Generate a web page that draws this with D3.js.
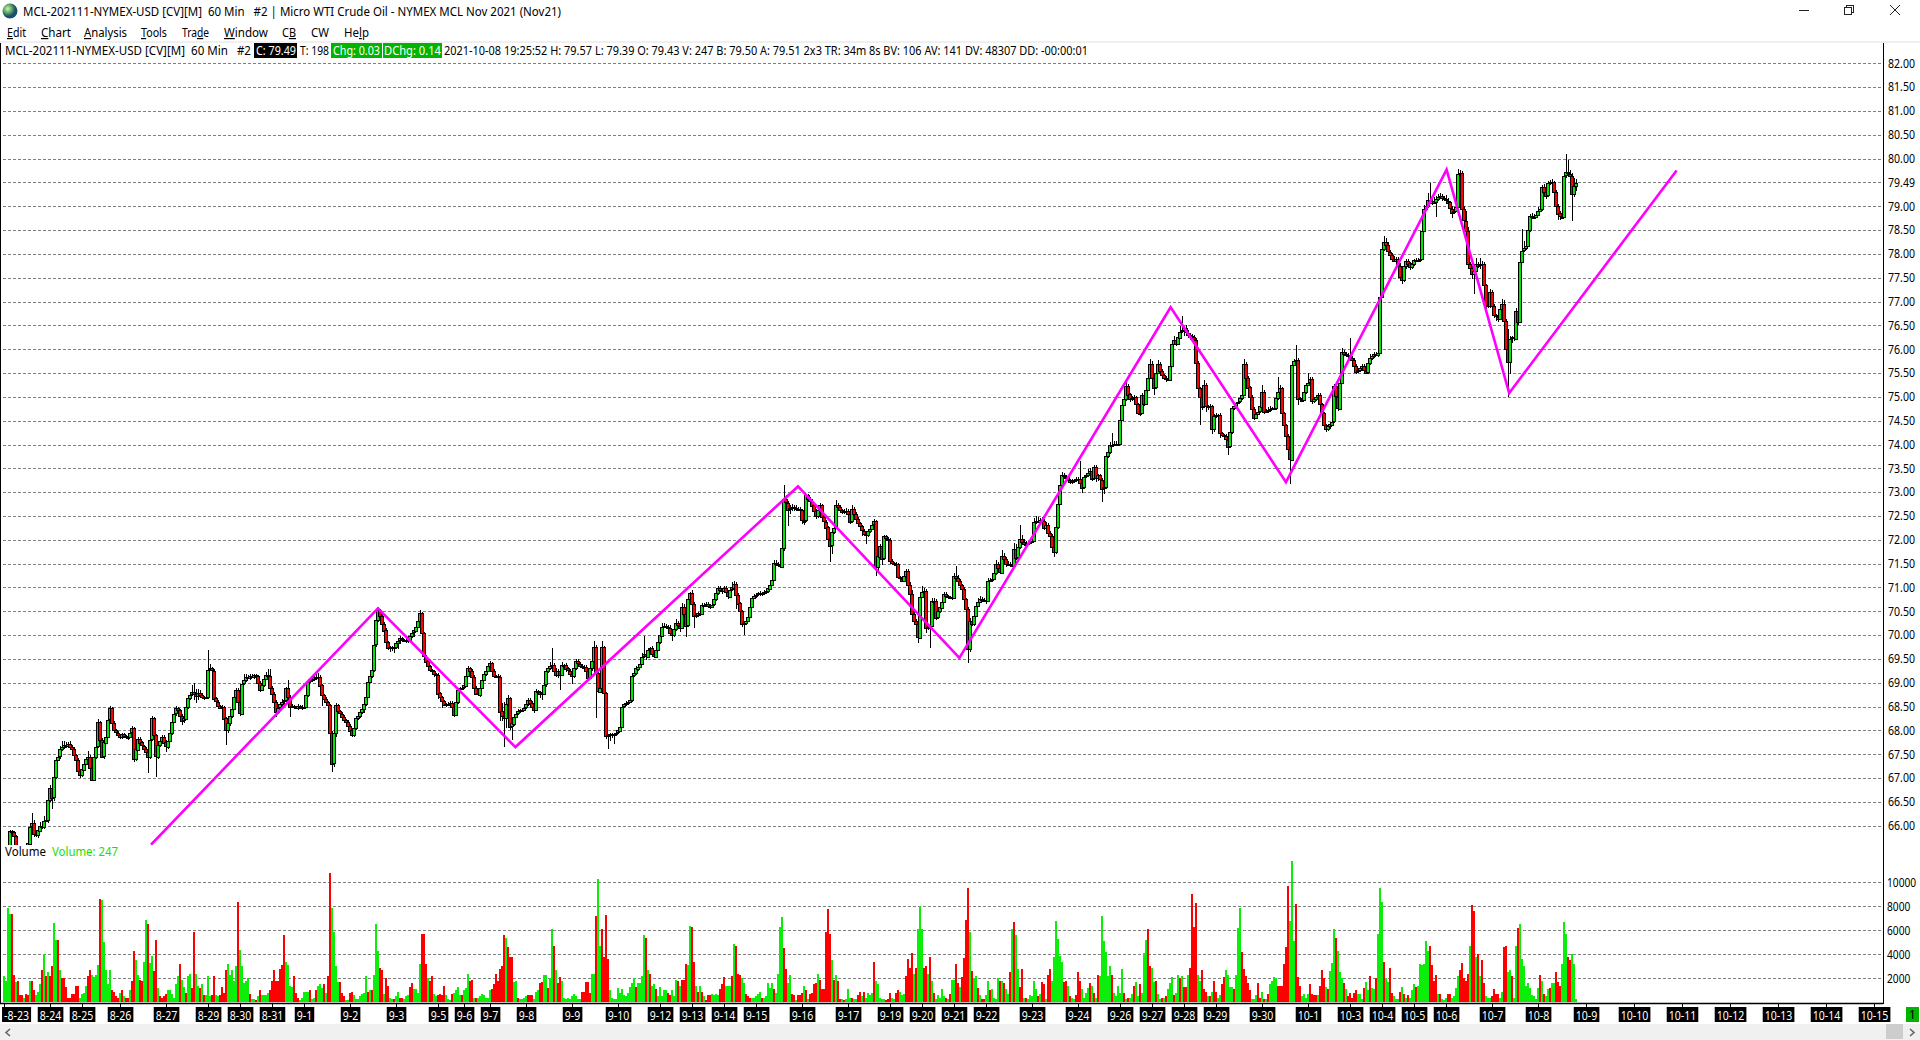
<!DOCTYPE html>
<html>
<head>
<meta charset="utf-8">
<title>MCL-202111-NYMEX-USD</title>
<script src="https://cdn.jsdelivr.net/npm/d3@7"></script>
<style>
  html, body { margin: 0; padding: 0; background: #fff; overflow: hidden; }
  text { font-family: "Noto Sans", sans-serif; font-size: 12px; fill: #000; }
</style>
</head>
<body>
<div id="chart"></div>
<script>
//***************************** Data ***********************************

// closes in cents, one line = 20 hourly bars. A bar opens on the previous close.
var firstOpen = 6530;
var closes = [
6520,6515,6510,6588,6586,6578,6530,6520,6510,6505,6512,6550,6563,6598,6605,6582,6580,6590,6600,6598,
6610,6612,6654,6680,6660,6703,6738,6745,6760,6765,6770,6768,6772,6765,6760,6748,6738,6715,6706,6718,
6730,6740,6745,6722,6696,6745,6766,6817,6780,6745,6775,6787,6822,6846,6815,6800,6795,6790,6786,6792,
6788,6785,6787,6795,6804,6738,6760,6783,6775,6768,6762,6755,6745,6780,6825,6790,6745,6770,6778,6787,
6775,6766,6778,6795,6818,6835,6846,6842,6830,6820,6825,6850,6868,6875,6880,6876,6872,6878,6874,6870,
6868,6870,6927,6930,6925,6867,6860,6852,6848,6850,6825,6800,6815,6830,6845,6870,6885,6860,6836,6898,
6905,6912,6910,6915,6912,6916,6914,6900,6885,6895,6908,6916,6915,6890,6877,6860,6840,6848,6855,6860,
6863,6888,6870,6850,6852,6850,6848,6852,6850,6848,6850,6875,6902,6905,6908,6912,6910,6913,6895,6874,
6866,6860,6853,6795,6730,6794,6853,6840,6835,6829,6822,6818,6810,6800,6790,6805,6825,6830,6838,6845,
6856,6870,6902,6915,6927,6980,7031,7052,7040,7024,7010,6985,6972,6975,6972,6975,6983,6988,6993,6990,
6990,6987,6990,6998,7005,7010,7018,7030,7046,7004,6955,6945,6935,6926,6924,6918,6917,6878,6870,6862,
6854,6855,6856,6858,6850,6833,6860,6885,6888,6890,6895,6915,6931,6925,6913,6890,6878,6875,6890,6906,
6918,6925,6935,6941,6925,6915,6915,6913,6840,6830,6826,6855,6868,6808,6815,6829,6835,6840,6842,6843,
6848,6855,6864,6858,6850,6843,6882,6880,6875,6878,6896,6924,6930,6935,6938,6925,6917,6925,6917,6938,
6938,6930,6925,6918,6913,6930,6945,6940,6936,6934,6934,6925,6910,6930,6945,6975,6920,6882,6890,6975,
6878,6787,6790,6792,6791,6793,6795,6800,6808,6850,6855,6858,6860,6864,6915,6920,6930,6934,6940,6955,
6960,6955,6969,6972,6960,6955,6969,6985,7000,7018,7020,7018,7015,7005,7000,7012,7025,7020,7015,7060,
7045,7020,7075,7088,7065,7039,7042,7046,7046,7064,7064,7066,7062,7060,7064,7075,7088,7099,7095,7092,
7099,7090,7081,7095,7100,7108,7085,7067,7050,7022,7025,7030,7039,7060,7078,7082,7085,7088,7086,7088,
7090,7092,7098,7106,7116,7151,7149,7147,7144,7183,7285,7278,7263,7266,7268,7266,7265,7265,7262,7240,
7240,7293,7285,7280,7272,7260,7250,7262,7272,7247,7238,7226,7200,7188,7216,7225,7272,7268,7262,7258,
7260,7261,7255,7239,7265,7254,7244,7235,7228,7219,7212,7209,7218,7223,7232,7239,7142,7165,7188,7160,
7207,7202,7200,7156,7152,7150,7149,7121,7118,7114,7125,7135,7105,7086,7044,7030,7023,6995,7080,7090,
7093,7016,7018,7020,7072,7072,7037,7050,7058,7070,7086,7082,7080,7079,7078,7125,7120,7114,7105,7097,
7075,7055,6971,7030,7023,7040,7062,7070,7076,7074,7073,7072,7114,7115,7118,7130,7149,7140,7132,7167,
7160,7149,7150,7148,7146,7181,7163,7185,7202,7195,7191,7192,7194,7196,7198,7237,7240,7238,7242,7240,
7226,7232,7215,7209,7185,7174,7226,7275,7314,7335,7332,7331,7325,7321,7323,7325,7328,7328,7320,7310,
7332,7335,7340,7345,7329,7352,7328,7335,7326,7307,7310,7375,7384,7399,7400,7402,7400,7401,7452,7483,
7495,7523,7505,7494,7497,7499,7485,7467,7467,7504,7485,7515,7540,7569,7540,7520,7550,7569,7555,7546,
7540,7537,7536,7565,7611,7620,7611,7625,7637,7640,7644,7635,7630,7628,7625,7620,7571,7518,7500,7480,
7525,7480,7478,7480,7431,7459,7462,7462,7424,7420,7417,7410,7396,7426,7476,7480,7487,7490,7497,7504,
7569,7540,7520,7500,7475,7457,7465,7469,7480,7511,7469,7470,7472,7475,7476,7476,7497,7510,7518,7466,
7440,7417,7390,7368,7567,7575,7578,7497,7494,7494,7510,7525,7530,7537,7490,7495,7500,7504,7485,7466,
7440,7431,7438,7442,7448,7522,7500,7476,7530,7595,7590,7587,7585,7582,7578,7565,7553,7556,7560,7564,
7555,7551,7570,7581,7586,7590,7588,7593,7710,7810,7825,7818,7805,7798,7790,7785,7790,7775,7751,7745,
7775,7786,7780,7772,7778,7787,7786,7788,7790,7849,7895,7901,7913,7908,7912,7908,7915,7920,7922,7918,
7915,7912,7908,7895,7887,7890,7899,7968,7969,7894,7870,7849,7779,7770,7758,7765,7779,7775,7778,7779,
7734,7692,7690,7720,7690,7671,7668,7664,7685,7695,7660,7601,7573,7622,7625,7622,7681,7657,7783,7807,
7812,7817,7850,7880,7878,7878,7882,7890,7894,7940,7930,7922,7948,7950,7950,7930,7901,7885,7878,7878,
7964,7971,7968,7964,7926,7943,7949];

// upper wick above the body, cents
var wickUp = [
8,12,6,4,3,3,3,4,2,3,5,4,6,8,22,8,6,5,8,6,
10,40,6,6,8,5,6,8,8,12,8,6,3,5,4,6,3,5,2,4,
8,5,12,4,2,4,8,6,3,4,3,5,4,6,3,5,2,3,2,3,
2,3,2,4,6,3,5,4,3,2,2,4,15,4,6,3,3,5,4,3,
3,4,5,4,3,6,5,4,3,4,15,8,6,6,15,20,10,8,6,4,
3,2,42,10,4,3,3,4,2,3,2,4,3,5,6,5,4,3,5,6,
14,6,5,3,4,3,3,2,4,3,4,6,12,14,4,3,3,5,4,5,
8,4,18,4,3,2,2,3,2,3,4,5,6,5,4,3,6,8,4,3,
3,4,2,3,3,4,4,3,3,4,3,2,3,3,3,5,6,4,5,4,
4,4,3,4,3,4,3,6,3,4,3,4,3,3,2,3,5,4,6,3,
2,4,3,4,5,4,4,4,6,3,3,3,3,2,3,3,2,3,2,3,
2,3,3,4,3,3,4,3,4,3,4,14,4,3,3,3,3,3,4,3,
3,3,3,4,3,3,2,3,3,18,30,8,6,3,4,3,4,4,3,3,
3,4,5,3,3,3,4,3,3,4,3,5,4,8,35,4,5,4,3,6,
2,3,3,4,4,6,4,4,3,4,3,3,4,5,6,12,4,3,3,12,
3,3,3,3,3,2,3,4,6,4,3,3,4,6,6,4,6,4,6,8,
38,8,4,3,6,5,6,8,6,8,6,4,4,6,5,4,8,4,3,8,
6,5,6,3,6,4,4,3,6,4,3,3,3,4,4,5,6,4,5,4,
4,3,4,6,12,6,4,3,3,3,4,4,3,4,3,4,4,3,4,3,
4,3,4,5,8,6,6,4,4,4,30,8,4,6,8,5,6,4,4,3,
3,4,3,5,5,4,4,6,5,4,3,4,3,5,3,6,12,6,4,3,
4,6,4,3,8,3,4,4,3,3,3,3,4,6,5,4,3,3,4,4,
4,3,3,3,3,2,4,3,3,6,6,4,3,6,8,6,3,3,8,14,
6,4,3,3,6,5,4,4,3,5,5,4,3,3,4,6,21,6,4,3,
4,3,3,5,3,4,6,8,6,4,3,3,6,4,5,6,8,4,5,12,
6,4,5,3,4,12,10,14,29,8,6,5,4,5,4,8,10,8,4,5,
4,5,3,4,3,2,4,5,6,8,6,5,4,3,4,3,3,4,38,3,
5,6,8,5,4,6,4,4,3,3,4,6,8,7,25,6,5,4,6,8,
5,8,4,3,4,5,3,3,4,4,5,4,8,10,6,4,6,8,4,3,
3,3,4,4,6,8,5,6,12,29,5,6,6,5,4,4,3,4,3,5,
10,4,3,5,3,5,4,3,4,3,3,4,3,5,3,3,3,3,4,3,
10,4,3,3,3,4,3,4,6,14,4,4,6,5,3,3,8,31,6,3,
3,3,4,3,6,5,30,4,3,5,4,5,21,4,4,3,4,5,4,3,
3,4,3,3,4,6,4,3,10,8,4,5,6,38,4,3,3,4,5,4,
4,3,6,8,4,4,5,6,6,6,12,8,6,4,4,6,4,4,5,3,
6,3,4,4,3,3,4,3,4,6,8,6,15,35,6,8,6,6,5,4,
3,8,6,4,5,3,4,10,8,5,6,20,8,4,4,4,12,4,14,6,
4,3,4,6,4,4,3,4,6,10,8,4,42,6,3,4,6,30,10,45,
15,20,8,4,5,6,8,8,6,4,6,4,4,6,8,4,4,3,4,3,
5,39,26,8,6,16,8];

// lower wick below the body, cents
var wickDown = [
3,4,2,5,3,4,3,5,3,4,2,3,5,4,12,6,4,5,3,4,
5,3,6,5,25,8,4,3,6,4,3,4,5,6,4,3,5,4,5,3,
4,3,6,4,3,3,5,3,22,3,6,4,3,5,4,3,5,3,4,5,
3,4,6,3,5,4,3,4,5,4,6,8,35,4,3,6,42,4,5,3,
4,12,4,3,4,3,4,3,6,8,4,3,5,4,3,12,14,8,6,5,
4,3,4,3,10,5,5,6,4,5,4,30,6,5,4,3,4,8,6,3,
3,4,3,4,3,4,3,5,4,3,4,3,5,8,4,6,12,5,3,10,
6,4,5,22,4,4,4,5,3,5,4,3,4,3,3,4,5,4,12,22,
4,5,6,4,17,6,8,5,4,4,5,4,6,8,4,3,4,3,4,3,
8,4,3,3,4,5,4,3,5,6,4,4,3,8,5,10,4,12,6,4,
5,3,4,3,4,10,4,3,3,5,6,6,5,3,4,5,3,12,8,14,
3,4,4,8,3,5,3,4,3,4,3,3,3,4,4,5,4,3,4,3,
3,3,3,3,8,6,5,12,20,10,60,20,6,8,28,6,4,3,3,4,
3,3,3,6,8,6,3,3,8,12,3,4,3,3,3,4,4,8,33,3,
3,8,5,6,15,3,4,3,5,6,3,12,4,3,6,5,95,3,4,4,
6,5,27,12,6,20,4,3,3,4,3,3,4,3,4,3,3,5,4,3,
3,8,3,3,6,4,3,3,3,3,4,4,5,4,12,3,3,5,8,3,
8,23,3,4,5,24,4,3,6,3,5,3,4,6,3,3,4,3,4,5,
3,4,6,3,3,12,30,4,3,5,22,4,3,3,3,3,4,3,4,3,
3,3,3,3,3,3,3,3,3,3,6,12,33,8,6,6,4,3,5,6,
8,3,4,3,5,6,6,4,5,4,5,6,8,34,18,3,3,3,4,3,
3,3,3,5,4,3,4,6,5,12,4,18,3,3,3,3,19,8,6,12,
3,5,4,6,3,4,3,4,5,3,3,8,6,3,6,4,6,12,3,3,
3,12,6,46,3,4,6,3,3,3,3,3,4,4,5,3,3,4,4,5,
3,6,29,6,4,3,3,3,3,4,3,6,3,3,4,3,3,5,4,3,
5,6,3,4,4,3,6,3,4,5,3,3,3,3,3,3,3,3,3,3,
6,3,5,3,8,11,3,3,3,3,3,4,5,3,3,3,3,6,5,12,
3,3,3,3,6,3,6,4,5,27,10,3,3,3,3,3,3,4,3,3,
3,3,3,5,3,3,6,5,8,3,5,3,3,3,6,17,3,3,4,4,
5,6,3,3,3,3,4,3,3,3,12,5,6,8,4,5,6,5,60,8,
3,12,5,3,8,4,3,3,10,4,6,5,18,3,3,3,3,3,3,3,
3,3,5,6,5,6,3,3,3,3,6,3,3,3,3,3,3,3,3,8,
6,5,4,51,3,3,3,14,3,4,3,3,3,3,5,3,3,3,6,6,
5,4,3,6,4,3,4,5,3,3,3,4,5,3,3,4,5,3,3,4,
3,4,3,3,3,4,3,4,3,3,3,3,6,5,4,3,4,6,5,8,
3,6,4,5,3,3,4,3,4,3,3,3,4,4,6,4,31,4,5,6,
4,3,4,8,12,3,3,3,3,4,6,12,8,6,10,42,3,5,6,8,
12,20,3,3,6,5,8,6,3,4,3,10,73,25,8,5,3,6,3,3,
3,3,3,3,3,3,3,3,3,3,4,6,3,3,3,5,8,14,6,4,
3,4,3,5,56,6,10];

// volume in hundreds of lots, negative = red bar
var volumes = [
22,18,79,74,-74,-23,17,-18,-6,-6,4,-7,-6,18,-18,-10,6,9,15,-27,
40,-22,25,-22,-30,66,52,-52,27,-20,-20,-13,-4,-4,-7,-7,-14,-14,4,7,
8,14,-22,-27,23,21,23,31,-86,85,50,27,15,27,-10,-9,-5,-4,8,-10,
5,-4,-4,10,-18,-43,35,23,-19,-18,34,69,-65,33,39,-26,-52,12,-5,-4,
-5,-7,10,10,7,4,15,22,-32,19,13,-8,22,24,-12,-59,24,14,-12,15,
-6,6,22,5,-6,-22,6,5,-6,-13,-8,-27,32,23,27,18,30,-84,44,30,
16,18,20,-7,3,3,-2,5,-10,6,6,6,8,-10,-18,-27,-18,-18,-28,-31,
-56,34,31,14,13,-22,-8,-4,2,4,9,9,9,-10,3,4,-10,14,15,12,
-15,8,-22,-108,79,59,30,17,-17,-8,-5,2,2,-8,-9,6,3,3,5,7,
8,22,-9,10,-10,23,65,43,-29,-27,7,-20,-14,4,3,-3,5,9,-4,-4,
3,5,6,-13,-16,11,11,8,32,-57,-57,-32,20,-18,-22,7,5,-6,-7,-6,
-14,6,3,2,-7,8,10,13,6,-6,10,12,24,-18,-19,4,-4,4,5,7,
6,4,4,10,-11,-15,-24,-18,-28,-30,-56,54,-46,-38,-38,17,18,-4,3,3,
4,5,-6,-6,-6,3,9,10,-16,-17,23,23,-12,20,61,-47,27,-16,-21,18,
4,3,4,3,5,7,5,3,3,-9,-9,-17,-17,-8,24,24,-72,103,47,-61,
-38,-73,-36,10,4,3,3,12,8,11,6,5,8,13,16,20,-13,16,16,22,
56,-54,27,-24,14,15,-11,5,13,5,10,10,-8,-6,10,5,19,-18,14,-19,
-19,-32,31,64,-63,-34,14,-9,14,-9,5,-2,-6,-6,7,6,7,6,-11,-15,
-21,14,14,14,-22,49,-47,-24,-23,20,16,-7,-5,-4,4,4,5,7,9,-4,
4,5,16,12,16,-11,8,24,63,71,-45,-28,16,23,-7,-6,2,-6,-6,-8,
14,-10,3,-7,-8,-15,-16,24,-19,-11,-11,-59,-78,-57,35,-19,23,-18,-3,3,
-2,3,11,4,-4,3,3,-6,-9,5,-9,4,8,6,8,-34,18,15,4,3,
3,-2,-3,-8,4,3,-8,-10,9,6,7,-22,-36,-29,-41,24,-29,61,80,61,
-29,-30,24,-38,18,-8,3,6,4,11,5,-4,3,-7,19,19,-32,-16,13,-21,
-37,-69,-95,59,-26,20,22,-12,6,-3,-3,6,18,-10,11,4,3,20,-18,18,
-16,11,7,-25,61,-67,56,28,-13,-28,4,-4,3,6,5,18,11,-5,7,-17,
-15,3,-23,-28,18,38,68,53,39,34,-17,-18,14,-5,4,3,-6,-25,-18,11,
4,8,12,-16,14,-8,4,-23,22,72,51,42,22,30,-23,8,5,14,8,28,
-8,3,-4,4,7,-14,17,5,-15,8,41,52,-61,-30,29,17,-18,7,3,-4,
4,-5,11,16,21,-6,8,23,-20,22,-13,-13,23,-29,-90,-63,-83,23,18,-27,
-11,-9,5,-5,9,-18,-9,4,6,-15,-21,27,23,13,13,-11,23,62,79,-42,
-28,-22,-16,-10,3,3,6,-16,-4,9,-3,3,-7,15,18,21,20,-14,-14,-14,
-32,-46,-97,68,118,51,-82,-21,-14,5,7,4,7,-15,-7,-6,-6,6,-14,-27,
-20,13,-11,26,33,61,-54,43,25,20,-16,11,-5,-8,-4,-8,-10,7,7,3,
-12,17,10,-22,12,11,-20,57,95,84,-34,20,17,-29,-8,5,3,3,-9,13,
-7,4,-6,4,10,15,-13,14,32,31,32,51,43,-47,-31,-18,-23,7,-7,3,
2,4,-7,-7,4,5,12,22,-27,-33,-20,-18,-24,47,-81,-76,38,-40,22,-35,
-16,5,4,4,-5,-11,-7,-7,4,9,-46,-47,25,27,-22,4,47,-62,65,36,
30,14,16,12,6,5,3,12,-23,18,-7,5,11,-12,16,16,-25,-17,-14,32,
67,57,-38,-35,40,32,2.47];

// the magenta zig-zag drawn on the chart: bar number and price
var zigBars = [73.5, 187, 255.7, 397, 477.7, 583.3, 641, 721.3, 752.6, 836.3];
var zigPrices = [65.6, 70.56, 67.65, 73.12, 69.52, 76.88, 73.21, 79.77, 75.08, 79.75];

var priceTicks = [66,66.5,67,67.5,68,68.5,69,69.5,70,70.5,71,71.5,72,72.5,73,73.5,74,74.5,75,75.5,76,76.5,77,77.5,78,78.5,79,79.5,80,80.5,81,81.5,82];
var volumeTicks = [2000, 4000, 6000, 8000, 10000];

var dateLabels = ['-8-23','8-24','8-25','8-26','8-27','8-29','8-30','8-31','9-1','9-2','9-3','9-5','9-6','9-7','9-8','9-9','9-10','9-12','9-13','9-14','9-15','9-16','9-17','9-19','9-20','9-21','9-22','9-23','9-24','9-26','9-27','9-28','9-29','9-30','10-1','10-3','10-4','10-5','10-6','10-7','10-8','10-9','10-10','10-11','10-12','10-13','10-14','10-15'];
var dateBars = [0,23,39,58,81,102,118,134,150,173,196,217,230,243,261,284,307,328,344,360,376,399,422,443,459,475,491,514,537,558,574,590,606,629,652,673,689,705,721,744,767,791,815,839,863,887,911,935];

var menuItems = ['Edit','Chart','Analysis','Tools','Trade','Window','CB','CW','Help'];
var menuKeys = [0, 0, 0, 0, 3, 0, 1, -1, 2];
var menuLeft = [7, 41, 84, 141, 182, 224, 282, 311, 344];
var menuWidth = [19, 30, 43, 26, 27, 44, 14, 18, 25];

var titleText = 'MCL-202111-NYMEX-USD [CV][M]  60 Min   #2 | Micro WTI Crude Oil - NYMEX MCL Nov 2021 (Nov21)';
var statusName = 'MCL-202111-NYMEX-USD [CV][M]  60 Min   #2';
var statusRest = '2021-10-08 19:25:52 H: 79.57 L: 79.39 O: 79.43 V: 247 B: 79.50 A: 79.51 2x3 TR: 34m 8s BV: 106 AV: 141 DV: 48307 DD: -00:00:01';

//***************************** Layout ***********************************

var chart_width = 1920;
var chart_height = 1040;
var axis_x = 1883;
var panel_top = 43;
var price_bottom = 845;
var axis_y = 1003;

var svg = d3.select('#chart')
  .append('svg')
  .attr('width', chart_width)
  .attr('height', chart_height)
  .style('display', 'block');

// put a text exactly on a width, the installed fonts are wider than the original
function fit(sel, width) {
  return sel
    .attr('textLength', width)
    .attr('lengthAdjust', 'spacingAndGlyphs')
    .style('white-space', 'pre');
}

function squeeze(sel, factor) {
  sel.each(function() {
    d3.select(this)
      .attr('textLength', this.getComputedTextLength() * factor)
      .attr('lengthAdjust', 'spacingAndGlyphs');
  });
}

//***************************** Scales ***********************************

var x_scale = d3.scaleLinear()
  .domain([0, 935])
  .range([4, 1874]);

var y_scale = d3.scaleLinear()
  .domain([66, 82])
  .range([825.7, 63.3]);

var vol_scale = d3.scaleLinear()
  .domain([0, 10000])
  .range([1002.3, 882.3]);

//***************************** Window parts ***********************************

var globe = svg.append('defs')
  .append('radialGradient')
  .attr('id', 'globe')
  .attr('cx', '35%')
  .attr('cy', '35%');
globe.append('stop').attr('offset', '0%').attr('stop-color', '#cfeec0');
globe.append('stop').attr('offset', '55%').attr('stop-color', '#5fa860');
globe.append('stop').attr('offset', '100%').attr('stop-color', '#1c4f6e');

svg.append('circle')
  .attr('cx', 10)
  .attr('cy', 11)
  .attr('r', 7.5)
  .attr('fill', 'url(#globe)');

svg.append('text')
  .attr('x', 23)
  .attr('y', 16)
  .text(titleText)
  .call(fit, 538);

// minimise, restore, close
var win_lines = [[1799, 10.5, 1809, 10.5], [1890, 5, 1900, 15], [1900, 5, 1890, 15]];
svg.selectAll('.win')
  .data(win_lines)
  .enter()
  .append('line')
  .attr('class', 'win')
  .attr('x1', function(d) { return d[0]; })
  .attr('y1', function(d) { return d[1]; })
  .attr('x2', function(d) { return d[2]; })
  .attr('y2', function(d) { return d[3]; })
  .attr('stroke', '#222');
svg.append('rect').attr('x', 1846.5).attr('y', 5.5).attr('width', 7).attr('height', 7).attr('fill', 'none').attr('stroke', '#222');
svg.append('rect').attr('x', 1844.5).attr('y', 7.5).attr('width', 7).attr('height', 7).attr('fill', '#fff').attr('stroke', '#222');

// menu bar, the access key of each item is underlined
var menu = svg.selectAll('.menu')
  .data(menuItems)
  .enter()
  .append('text')
  .attr('class', 'menu')
  .attr('x', function(d, i) { return menuLeft[i]; })
  .attr('y', 37)
  .attr('textLength', function(d, i) { return menuWidth[i]; })
  .attr('lengthAdjust', 'spacingAndGlyphs');
menu.each(function(d, i) {
  var k = menuKeys[i];
  var t = d3.select(this);
  if (k < 0) {
    t.text(d);
    return;
  }
  t.append('tspan').text(d.slice(0, k));
  t.append('tspan').attr('text-decoration', 'underline').text(d.charAt(k));
  t.append('tspan').text(d.slice(k + 1));
});

svg.append('rect')
  .attr('x', 0)
  .attr('y', 41)
  .attr('width', chart_width)
  .attr('height', 2)
  .attr('fill', '#f0f0f0');

//***************************** Grid ***********************************

var grid = svg.append('g').attr('shape-rendering', 'crispEdges');

function gridLines(ticks, scale) {
  grid.selectAll(null)
    .data(ticks)
    .enter()
    .append('line')
    .attr('x1', 3)
    .attr('x2', axis_x)
    .attr('y1', function(d) { return Math.round(scale(d)) + 0.5; })
    .attr('y2', function(d) { return Math.round(scale(d)) + 0.5; })
    .attr('stroke', '#808080')
    .attr('stroke-dasharray', '3,2');
}
gridLines(priceTicks, y_scale);
gridLines(volumeTicks, vol_scale);

//***************************** Candles ***********************************

svg.append('clipPath')
  .attr('id', 'price-clip')
  .append('rect')
  .attr('x', 0)
  .attr('y', panel_top)
  .attr('width', axis_x)
  .attr('height', price_bottom - panel_top);

var bars = closes.map(function(c, i) {
  var o = i ? closes[i - 1] : firstOpen;
  return {
    i: i,
    open: o / 100,
    close: c / 100,
    high: (Math.max(o, c) + wickUp[i]) / 100,
    low: (Math.min(o, c) - wickDown[i]) / 100
  };
});

var candles = svg.append('g')
  .attr('clip-path', 'url(#price-clip)')
  .attr('shape-rendering', 'crispEdges');

var candle = candles.selectAll('g')
  .data(bars)
  .enter()
  .append('g');

candle.append('line')
  .attr('x1', function(d) { return x_scale(d.i) + 0.5; })
  .attr('x2', function(d) { return x_scale(d.i) + 0.5; })
  .attr('y1', function(d) { return y_scale(d.high); })
  .attr('y2', function(d) { return y_scale(d.low); })
  .attr('stroke', '#000');

candle.append('rect')
  .attr('x', function(d) { return x_scale(d.i) - 1.5; })
  .attr('width', 3)
  .attr('y', function(d) { return Math.round(y_scale(Math.max(d.open, d.close))) + 0.5; })
  .attr('height', function(d) {
    return Math.max(1, Math.round(Math.abs(y_scale(d.open) - y_scale(d.close))));
  })
  .attr('fill', function(d) { return d.close >= d.open ? '#00e600' : '#ff0000'; })
  .attr('stroke', '#000');

// zig-zag
var zig_line = d3.line()
  .x(function(d, i) { return x_scale(d); })
  .y(function(d, i) { return y_scale(zigPrices[i]); });

svg.append('path')
  .attr('clip-path', 'url(#price-clip)')
  .attr('d', zig_line(zigBars))
  .attr('fill', 'none')
  .attr('stroke', '#ff00ff')
  .attr('stroke-width', 2.6);

//***************************** Volume ***********************************

svg.append('g')
  .attr('shape-rendering', 'crispEdges')
  .selectAll('rect')
  .data(volumes)
  .enter()
  .append('rect')
  .attr('x', function(d, i) { return x_scale(i) - 1; })
  .attr('width', 2)
  .attr('y', function(d) { return vol_scale(Math.abs(d) * 100); })
  .attr('height', function(d) { return vol_scale(0) - vol_scale(Math.abs(d) * 100); })
  .attr('fill', function(d) { return d < 0 ? '#ff0000' : '#0aee0a'; });

svg.append('text').attr('x', 5).attr('y', 856).text('Volume').call(fit, 41);
svg.append('text').attr('x', 52).attr('y', 856).attr('style', 'fill:#22e000').text('Volume: 247').call(fit, 66);

//***************************** Axes ***********************************

var price_format = d3.format('.2f');
var price_axis = d3.axisRight(y_scale)
  .tickValues(priceTicks)
  .tickSize(0)
  .tickPadding(5)
  .tickFormat(function(d) { return d === 79.5 ? '79.49' : price_format(d); });

var g_price = svg.append('g')
  .attr('transform', 'translate(' + axis_x + ',0)')
  .call(price_axis);
g_price.select('.domain').remove();
g_price.selectAll('text').call(squeeze, 0.88);

var vol_axis = d3.axisRight(vol_scale)
  .tickValues(volumeTicks)
  .tickSize(0)
  .tickPadding(4)
  .tickFormat(d3.format('d'));

var g_vol = svg.append('g')
  .attr('transform', 'translate(' + axis_x + ',0)')
  .call(vol_axis);
g_vol.select('.domain').remove();
g_vol.selectAll('text').call(squeeze, 0.85);

// axis frame
svg.append('line').attr('x1', axis_x + 0.5).attr('x2', axis_x + 0.5).attr('y1', panel_top).attr('y2', axis_y + 1).attr('stroke', '#000');
svg.append('line').attr('x1', 0.5).attr('x2', 0.5).attr('y1', panel_top).attr('y2', axis_y + 1).attr('stroke', '#000');

var date_axis = d3.axisBottom(x_scale)
  .tickValues(dateBars)
  .tickSize(4)
  .tickPadding(5)
  .tickFormat(function(d, i) { return dateLabels[i]; });

var g_date = svg.append('g')
  .attr('transform', 'translate(0,' + axis_y + ')')
  .call(date_axis);

g_date.select('.domain')
  .attr('d', 'M0,0.5H' + axis_x)
  .attr('stroke', '#000')
  .attr('stroke-width', 1.5);

g_date.selectAll('.tick text')
  .attr('x', function(d, i) { return i === 0 ? 12 : 0; })
  .attr('y', 6)
  .attr('dy', '0.9em')
  .style('fill', '#fff')
  .call(squeeze, 0.88);

g_date.selectAll('.tick').each(function() {
  var label = d3.select(this).select('text');
  var box = label.node().getBBox();
  d3.select(this).insert('rect', 'text')
    .attr('x', box.x - 2)
    .attr('y', 4)
    .attr('width', box.width + 4)
    .attr('height', 15)
    .attr('fill', '#000');
});

//***************************** Status line ***********************************

svg.append('text').attr('x', 5).attr('y', 55).text(statusName).call(fit, 246);

svg.append('rect').attr('x', 254).attr('y', 43).attr('width', 43).attr('height', 15).attr('fill', '#000');
svg.append('text').attr('x', 256).attr('y', 55).attr('style', 'fill:#fff').text('C: 79.49').call(fit, 40);

svg.append('text').attr('x', 300).attr('y', 55).text('T: 198').call(fit, 29);

svg.append('rect').attr('x', 331).attr('y', 43).attr('width', 51).attr('height', 15).attr('fill', '#00b400');
svg.append('text').attr('x', 333).attr('y', 55).attr('style', 'fill:#fff').text('Chg: 0.03').call(fit, 47);

svg.append('rect').attr('x', 383).attr('y', 43).attr('width', 59).attr('height', 15).attr('fill', '#00b400');
svg.append('text').attr('x', 384).attr('y', 55).attr('style', 'fill:#fff').text('DChg: 0.14').call(fit, 57);

svg.append('text').attr('x', 444).attr('y', 55).text(statusRest).call(fit, 644);

//***************************** Scroll bar ***********************************

svg.append('rect').attr('x', 0).attr('y', 1024).attr('width', chart_width).attr('height', 16).attr('fill', '#f0f0f0');
svg.append('rect').attr('x', 1886).attr('y', 1024).attr('width', 17).attr('height', 15).attr('fill', '#cdcdcd');

svg.selectAll('.arrow')
  .data(['M10,1029L6,1032.5L10,1036', 'M1910,1029L1914,1032.5L1910,1036'])
  .enter()
  .append('path')
  .attr('class', 'arrow')
  .attr('d', function(d) { return d; })
  .attr('fill', 'none')
  .attr('stroke', '#606060')
  .attr('stroke-width', 1.5);

svg.append('rect').attr('x', 1906).attr('y', 1007).attr('width', 13).attr('height', 15).attr('fill', '#00b400');
svg.append('text').attr('x', 1912.5).attr('y', 1019).attr('text-anchor', 'middle').text('1');
</script>
</body>
</html>
